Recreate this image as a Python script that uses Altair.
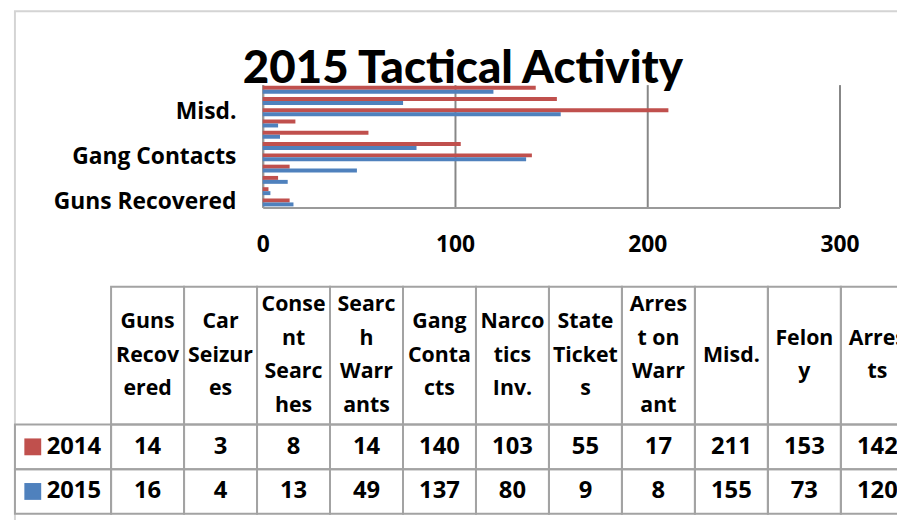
import altair as alt
import pandas as pd

# ---- data ----
categories = ["Guns Recovered", "Car Seizures", "Consent Searches", "Search Warrants",
              "Gang Contacts", "Narcotics Inv.", "State Tickets", "Arrest on Warrant",
              "Misd.", "Felony", "Arrests"]
header_labels = ["Guns\nRecov\nered", "Car\nSeizur\nes", "Conse\nnt\nSearc\nhes",
                 "Searc\nh\nWarr\nants", "Gang\nConta\ncts", "Narco\ntics\nInv.",
                 "State\nTicket\ns", "Arres\nt on\nWarr\nant", "Misd.", "Felon\ny", "Arres\nts"]
vals_2014 = [14, 3, 8, 14, 140, 103, 55, 17, 211, 153, 142]
vals_2015 = [16, 4, 13, 49, 137, 80, 9, 8, 155, 73, 120]
years = ["2014", "2015"]
colors = ["#C0504D", "#4F81BD"]
x_ticks = [0, 100, 200, 300]
shown_labels = ["Guns Recovered", "Gang Contacts", "Misd."]
title_text = "2015 Tactical Activity"

FONT = "Open Sans"
TITLE_FONT = "Lato"
GRID = "#878787"
TABLE_LINE = "#a3a3a3"

series = {"2014": vals_2014, "2015": vals_2015}

bar_df = pd.DataFrame([
    {"category": c, "year": y, "value": series[y][i]}
    for y in years for i, c in enumerate(categories)
])

color_scale = alt.Scale(domain=years, range=colors)

bars = alt.Chart(bar_df).mark_bar().encode(
    x=alt.X("value:Q",
            scale=alt.Scale(domain=[0, 300], nice=False),
            axis=alt.Axis(values=x_ticks, title=None, grid=True, gridColor=GRID, gridWidth=2,
                          domainColor="#9a9a9a", domainWidth=2, ticks=False, labelPadding=26,
                          labelFont=FONT, labelFontWeight="bold", labelFontSize=23,
                          labelColor="black", labelFlush=False)),
    y=alt.Y("category:N", sort=list(reversed(categories)),
            scale=alt.Scale(paddingInner=0.3, paddingOuter=0.1),
            axis=alt.Axis(values=shown_labels, title=None, ticks=False, domainColor="#9a9a9a",
                          domainWidth=2, labelPadding=27, labelFont=FONT, labelFontWeight="bold",
                          labelFontSize=23, labelColor="black", labelLimit=400)),
    yOffset=alt.YOffset("year:N", sort=years),
    color=alt.Color("year:N", scale=color_scale, legend=None),
)

# ---- data table under the chart ----
n = len(categories)
tx = alt.Scale(domain=[-1, 0, n], range=[-250, -153, 657], nice=False, zero=False)
ty = alt.Scale(domain=[0, 1, 2, 3], range=[204, 343, 388, 433], nice=False, zero=False)
HEADER_PX = 139.0
LINE_PX = 34.0

cells = []
for i in range(n):
    cells.append({"x0": i, "x1": i + 1, "y0": 0, "y1": 1})
for r in (1, 2):
    for i in range(-1, n):
        cells.append({"x0": i, "x1": i + 1, "y0": r, "y1": r + 1})
cell_df = pd.DataFrame(cells)

grid_rects = alt.Chart(cell_df).mark_rect(fillOpacity=0, stroke=TABLE_LINE, strokeWidth=2).encode(
    x=alt.X("x0:Q", scale=tx, axis=None),
    x2="x1:Q",
    y=alt.Y("y0:Q", scale=ty, axis=None),
    y2="y1:Q",
)

head_rows = []
for i, lab in enumerate(header_labels):
    lines = lab.split("\n")
    k = len(lines)
    for j, line in enumerate(lines):
        off = j - (k - 1) / 2
        head_rows.append({"x": i + 0.5, "y": 0.5 + off * LINE_PX / HEADER_PX, "label": line})
head_df = pd.DataFrame(head_rows)
head_text = alt.Chart(head_df).mark_text(
    font=FONT, fontWeight="bold", fontSize=21.5,
    align="center", baseline="middle", color="black"
).encode(
    x=alt.X("x:Q", scale=tx, axis=None),
    y=alt.Y("y:Q", scale=ty, axis=None),
    text="label:N",
)

val_rows = []
for r, y in enumerate(years):
    for i in range(n):
        val_rows.append({"x": i + 0.5, "y": r + 1.5, "v": str(series[y][i])})
val_df = pd.DataFrame(val_rows)
val_text = alt.Chart(val_df).mark_text(
    font=FONT, fontWeight="bold", fontSize=24, align="center", baseline="middle", color="black"
).encode(
    x=alt.X("x:Q", scale=tx, axis=None),
    y=alt.Y("y:Q", scale=ty, axis=None),
    text="v:N",
)

leg_df = pd.DataFrame({"x": [-1, -1], "y": [1.5, 2.5], "year": years})
leg_sq = alt.Chart(leg_df).mark_square(size=289, opacity=1, xOffset=18).encode(
    x=alt.X("x:Q", scale=tx, axis=None),
    y=alt.Y("y:Q", scale=ty, axis=None),
    color=alt.Color("year:N", scale=color_scale, legend=None),
)
leg_text = alt.Chart(leg_df).mark_text(
    font=FONT, fontWeight="bold", fontSize=24, align="left", baseline="middle", color="black", dx=32
).encode(
    x=alt.X("x:Q", scale=tx, axis=None),
    y=alt.Y("y:Q", scale=ty, axis=None),
    text="year:N",
)

# outer frame of the chart object
frame = alt.Chart(pd.DataFrame({"k": [0]})).mark_rect(
    fillOpacity=0, stroke="#d4d4d4", strokeWidth=2
).encode(x=alt.value(-250), x2=alt.value(700), y=alt.value(-74), y2=alt.value(600))

title = alt.Chart(pd.DataFrame({"t": [title_text]})).mark_text(
    font=TITLE_FONT, fontWeight=900, fontSize=46, align="center", baseline="alphabetic", color="black"
).encode(x=alt.value(202), y=alt.value(-2), text="t:N")

table = alt.layer(grid_rects, head_text, val_text, leg_sq, leg_text)

chart = alt.layer(frame, title, bars, table).resolve_scale(
    x="independent", y="independent"
).properties(
    width=582, height=124,
    padding={"left": 257, "top": 75, "right": 58, "bottom": 313},
    autosize=alt.AutoSizeParams(type="none"),
).configure_view(stroke=None)

chart.save("out.html", embed_options={"renderer": "svg", "actions": False})
